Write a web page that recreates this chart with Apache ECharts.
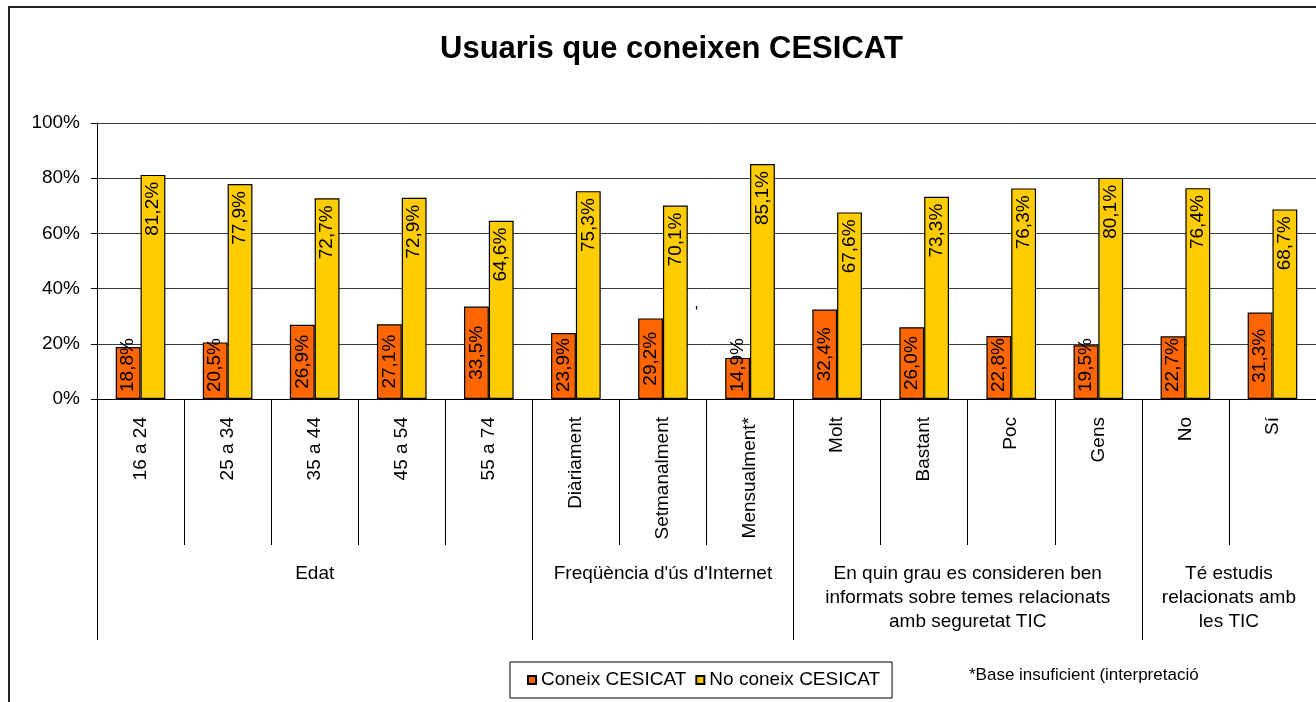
<!DOCTYPE html>
<html>
<head>
<meta charset="utf-8">
<title>Usuaris que coneixen CESICAT</title>
<script src="https://cdn.jsdelivr.net/npm/echarts@6/dist/echarts.min.js"></script>
<style>
  html, body { margin: 0; padding: 0; background: #fff; }
  #chart { width: 1316px; height: 702px; }
</style>
</head>
<body>
<div id="chart"></div>
<script>
const categories = ['16 a 24', '25 a 34', '35 a 44', '45 a 54', '55 a 74',
  'Diàriament', 'Setmanalment', 'Mensualment*',
  'Molt', 'Bastant', 'Poc', 'Gens',
  'No', 'Sí']
const coneix = [18.8, 20.5, 26.9, 27.1, 33.5, 23.9, 29.2, 14.9, 32.4, 26.0, 22.8, 19.5, 22.7, 31.3]
const noConeix = [81.2, 77.9, 72.7, 72.9, 64.6, 75.3, 70.1, 85.1, 67.6, 73.3, 76.3, 80.1, 76.4, 68.7]
const groups = ['Edat', "Freqüència d'ús d'Internet",
  'En quin grau es consideren ben\ninformats sobre temes relacionats\namb seguretat TIC',
  'Té estudis\nrelacionats amb\nles TIC']
const groupSizes = [5, 3, 4, 2]
const yTicks = [0, 20, 40, 60, 80, 100]
const seriesNames = ['Coneix CESICAT', 'No coneix CESICAT']
const footnote = '*Base insuficient (interpretació'

const font = "'Liberation Sans', Arial, sans-serif"

// group boundaries and centres on a 0..n scale
const groupEdges = [0]
groupSizes.forEach(s => groupEdges.push(groupEdges[groupEdges.length - 1] + s))
const groupCentres = groupSizes.map((s, i) => groupEdges[i] + s / 2)

const pct = v => v.toFixed(1).replace('.', ',') + '%'

const chart = echarts.init(document.getElementById('chart'))

chart.setOption({
  animation: false,
  backgroundColor: '#fff',
  textStyle: { fontFamily: font },
  title: {
    text: 'Usuaris que coneixen CESICAT',
    left: 440,
    top: 34,
    padding: 0,
    textStyle: { fontSize: 31, fontWeight: 'bold', color: '#000', fontFamily: font }
  },
  legend: {
    data: seriesNames,
    left: 510,
    top: 662,
    padding: [8, 12, 8, 17],
    itemGap: 9,
    itemWidth: 8,
    itemHeight: 8,
    icon: 'rect',
    borderColor: '#000',
    borderWidth: 1,
    textStyle: { fontSize: 19, color: '#000', fontFamily: font, lineHeight: 20 }
  },
  grid: { left: 97, top: 123, width: 1225, height: 276, containLabel: false },
  xAxis: [
    {
      type: 'category',
      data: categories,
      position: 'bottom',
      axisLine: { show: true, lineStyle: { color: '#000', width: 1 } },
      axisTick: { show: true, interval: 0, length: 146, lineStyle: { color: '#000', width: 1 } },
      axisLabel: { interval: 0, rotate: 90, margin: 18, fontSize: 19, color: '#000', fontFamily: font },
      splitLine: { show: false }
    },
    {
      type: 'value',
      min: 0,
      max: categories.length,
      position: 'bottom',
      axisLine: { show: false },
      axisTick: { show: true, customValues: groupEdges, length: 241, lineStyle: { color: '#000', width: 1 } },
      axisLabel: {
        customValues: groupCentres,
        formatter: v => groups[groupCentres.indexOf(v)],
        margin: 163,
        fontSize: 19,
        lineHeight: 24,
        align: 'center',
        color: '#000',
        fontFamily: font
      },
      splitLine: { show: false }
    }
  ],
  yAxis: {
    type: 'value',
    min: yTicks[0],
    max: yTicks[yTicks.length - 1],
    interval: 20,
    axisLine: { show: true, lineStyle: { color: '#000', width: 1 } },
    axisTick: { show: true, length: 6, lineStyle: { color: '#000' } },
    axisLabel: { formatter: '{value}%', margin: 17, fontSize: 19, color: '#000', fontFamily: font },
    splitLine: { show: true, lineStyle: { color: '#3a3a3a', width: 1 } }
  },
  series: [
    {
      name: seriesNames[0],
      type: 'bar',
      data: coneix,
      barGap: '0%',
      barCategoryGap: '43%',
      itemStyle: { color: '#FF6600', borderColor: '#000', borderWidth: 1.2 },
      label: {
        show: true,
        position: 'inside',
        rotate: 90,
        align: 'center',
        verticalAlign: 'middle',
        fontSize: 19,
        color: '#000',
        fontFamily: font,
        formatter: p => pct(p.value)
      },
      // keep the label off the axis when the bar is too short for it
      labelLayout: p => {
        const lr = p.labelRect
        const len = Math.max(lr.width, lr.height)
        const cx = lr.x + lr.width / 2
        const cy = lr.y + lr.height / 2
        const limit = p.rect.y + p.rect.height - 7
        if (cy + len / 2 > limit) return { x: cx, y: limit - len / 2 }
        return {}
      }
    },
    {
      name: seriesNames[1],
      type: 'bar',
      data: noConeix,
      barGap: '0%',
      barCategoryGap: '43%',
      itemStyle: { color: '#FFCC00', borderColor: '#000', borderWidth: 1.2 },
      label: {
        show: true,
        position: 'insideTop',
        distance: 7,
        rotate: 90,
        align: 'right',
        verticalAlign: 'middle',
        fontSize: 19,
        color: '#000',
        fontFamily: font,
        formatter: p => pct(p.value)
      }
    }
  ],
  graphic: [
    {
      type: 'rect',
      z: -1,
      shape: { x: 9, y: 7, width: 1400, height: 800 },
      style: { fill: 'none', stroke: '#222', lineWidth: 2 }
    },
    {
      type: 'text',
      x: 969,
      y: 675,
      style: { text: footnote, fontSize: 17, fill: '#000', fontFamily: font, verticalAlign: 'middle' }
    },
    {
      type: 'text',
      x: 695,
      y: 306,
      style: { text: "'", fontSize: 16, fill: '#000', fontFamily: font }
    }
  ]
})
</script>
</body>
</html>
